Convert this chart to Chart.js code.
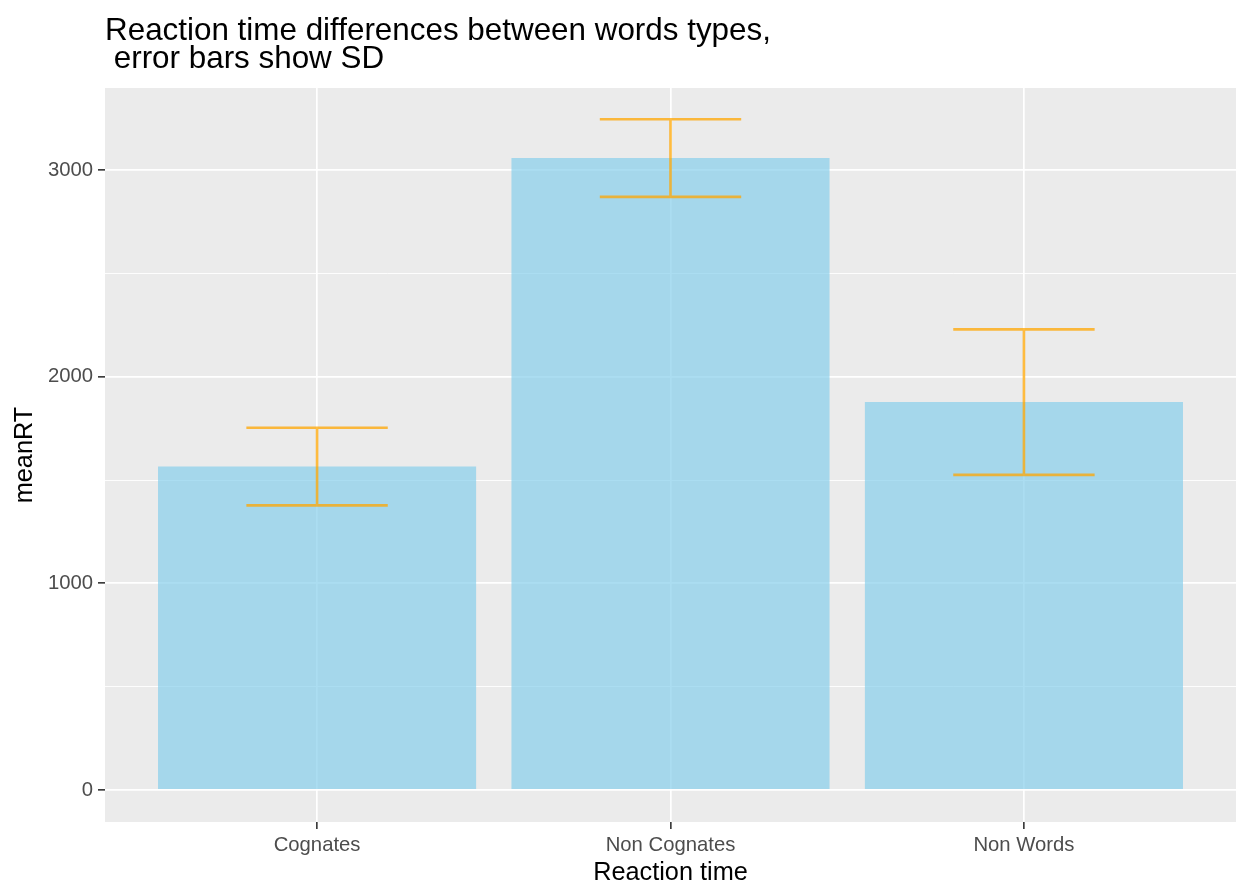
<!DOCTYPE html>
<html>
<head>
<meta charset="utf-8">
<script src="https://cdn.jsdelivr.net/npm/chart.js@4"></script>
<style>
  html, body { margin: 0; padding: 0; background: #ffffff; }
  #wrap { width: 1239px; height: 886px; position: relative; }
</style>
</head>
<body>
<div id="wrap"><canvas id="c" width="1239" height="886"></canvas></div>
<script>
// ---- data ----
const categories = ["Cognates", "Non Cognates", "Non Words"];
const meanRT = [1565, 3058, 1877];
const sdRT = [188, 188, 352];
const yTickValues = [0, 1000, 2000, 3000];
const yGridValues = [0, 500, 1000, 1500, 2000, 2500, 3000];
const titleLines = ["Reaction time differences between words types,", " error bars show SD"];
const xTitle = "Reaction time";
const yTitle = "meanRT";

const FONT = "'Liberation Sans', Arial, Helvetica, sans-serif";

const panelBg = {
  id: 'panelBg',
  beforeDraw(chart) {
    const {ctx, chartArea: a} = chart;
    ctx.save();
    ctx.fillStyle = '#EBEBEB';
    ctx.fillRect(a.left, a.top, a.right - a.left, a.bottom - a.top);
    ctx.restore();
  }
};

const errorBars = {
  id: 'errorBars',
  afterDatasetsDraw(chart) {
    const {ctx} = chart;
    const xs = chart.scales.x, ys = chart.scales.y;
    ctx.save();
    ctx.strokeStyle = 'rgba(255,165,0,0.75)';
    ctx.lineWidth = 2.6;
    ctx.lineCap = 'butt';
    meanRT.forEach((m, i) => {
      const cx = xs.getPixelForValue(i + 1);
      const half = xs.getPixelForValue(i + 1.2) - cx;
      const yt = ys.getPixelForValue(m + sdRT[i]);
      const yb = ys.getPixelForValue(m - sdRT[i]);
      ctx.beginPath();
      ctx.moveTo(cx - half, yt); ctx.lineTo(cx + half, yt);
      ctx.moveTo(cx, yt); ctx.lineTo(cx, yb);
      ctx.moveTo(cx - half, yb); ctx.lineTo(cx + half, yb);
      ctx.stroke();
    });
    ctx.restore();
  }
};

new Chart(document.getElementById('c'), {
  type: 'bar',
  data: {
    datasets: [{
      data: categories.map((c, i) => ({x: i + 1, y: meanRT[i]})),
      backgroundColor: 'rgba(135,206,235,0.7)',
      borderWidth: 0,
      barPercentage: 0.9,
      categoryPercentage: 1.0
    }]
  },
  options: {
    responsive: false,
    animation: false,
    devicePixelRatio: 1,
    layout: { padding: { left: 0, right: 3, top: 0, bottom: 0 } },
    plugins: {
      legend: { display: false },
      tooltip: { enabled: false },
      title: {
        display: true,
        text: titleLines,
        align: 'start',
        fullSize: false,
        color: '#000000',
        font: { family: FONT, size: 31.4, weight: 'normal', lineHeight: '28px' },
        padding: { top: 17, bottom: 15 }
      }
    },
    scales: {
      x: {
        type: 'linear',
        min: 0.4,
        max: 3.6,
        offset: false,
        afterBuildTicks(scale) { scale.ticks = categories.map((c, i) => ({value: i + 1})); },
        afterFit(scale) { scale.height = 64; },
        ticks: {
          includeBounds: false,
          stepSize: 1,
          autoSkip: false,
          maxRotation: 0,
          color: '#4D4D4D',
          font: { family: FONT, size: 20.3 },
          padding: 4,
          callback: (v) => categories[Math.round(v) - 1] || ''
        },
        grid: {
          offset: false,
          color: '#FFFFFF',
          lineWidth: 1.7,
          drawTicks: true,
          tickLength: 7,
          tickColor: '#333333',
          tickWidth: 1.6
        },
        border: { display: false },
        title: {
          display: true,
          text: xTitle,
          color: '#000000',
          font: { family: FONT, size: 25.3, lineHeight: 1 },
          padding: { top: 0, bottom: 0 }
        }
      },
      y: {
        min: -155,
        max: 3397,
        afterBuildTicks(scale) { scale.ticks = yGridValues.map(v => ({value: v})); },
        afterFit(scale) { scale.width = 105; },
        ticks: {
          includeBounds: false,
          stepSize: 500,
          color: '#4D4D4D',
          font: { family: FONT, size: 20.3 },
          padding: 5,
          callback: (v) => yTickValues.includes(v) ? String(v) : ''
        },
        grid: {
          color: '#FFFFFF',
          lineWidth: (ctx) => (ctx.tick && yTickValues.includes(ctx.tick.value)) ? 1.7 : 0.9,
          drawTicks: true,
          tickLength: 7,
          tickColor: (ctx) => (ctx.tick && yTickValues.includes(ctx.tick.value)) ? '#333333' : 'rgba(0,0,0,0)',
          tickWidth: 1.6
        },
        border: { display: false },
        title: {
          display: true,
          text: yTitle,
          color: '#000000',
          font: { family: FONT, size: 25.3, lineHeight: 1 },
          padding: { top: 12, bottom: 0 }
        }
      }
    }
  },
  plugins: [panelBg, errorBars]
});
</script>
</body>
</html>
